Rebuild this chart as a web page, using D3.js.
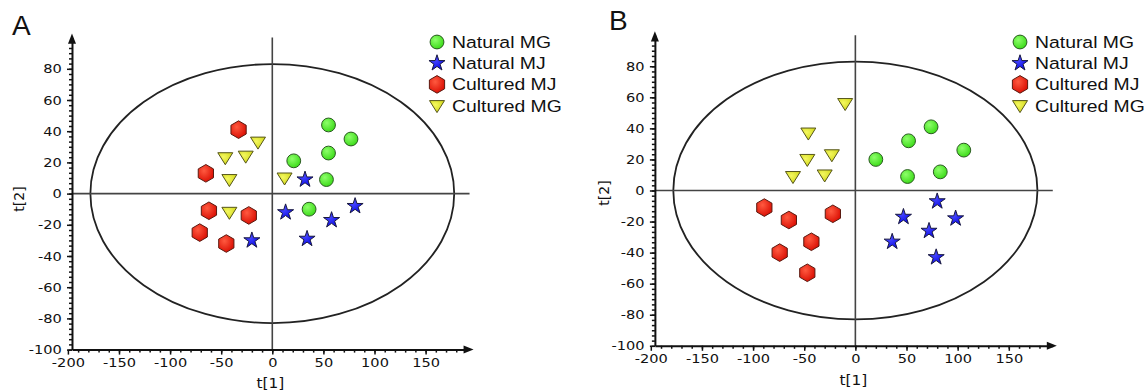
<!DOCTYPE html>
<html>
<head>
<meta charset="utf-8">
<script src="https://cdn.jsdelivr.net/npm/d3@7"></script>
<style>
  body { margin: 0; background: #fff; }
</style>
</head>
<body>
<div id="chart-area"></div>
<script>
// group names, in legend order
const CATEGORIES = ['Natural MG', 'Natural MJ', 'Cultured MJ', 'Cultured MG'];

// panel A scores, [t1, t2]
const A_NATURAL_MG = [[21, 21], [55, 44], [77, 35], [55, 26], [53, 9], [36, -10]];
const A_NATURAL_MJ = [[32, 9], [13, -12], [81, -8], [58, -17], [34, -29], [-20, -30]];
const A_CULTURED_MJ = [[-33, 41], [-65, 13], [-62, -11], [-23, -14], [-71, -25], [-45, -32]];
const A_CULTURED_MG = [[-14, 33], [-46, 23], [-26, 24], [-42, 9], [12, 10], [-42, -12]];

// panel B scores, [t1, t2]
const B_NATURAL_MG = [[20, 20], [52, 32], [74, 41], [106, 26], [51, 9], [83, 12]];
const B_NATURAL_MJ = [[80, -7], [47, -17], [98, -18], [72, -26], [36, -33], [79, -43]];
const B_CULTURED_MJ = [[-89, -11], [-65, -19], [-22, -15], [-43, -33], [-74, -40], [-47, -53]];
const B_CULTURED_MG = [[-10, 56], [-46, 37], [-47, 20], [-23, 23], [-61, 9], [-30, 10]];

const X_TICKS = [-200, -150, -100, -50, 0, 50, 100, 150];
const Y_TICKS = [-100, -80, -60, -40, -20, 0, 20, 40, 60, 80];
// Hotelling ellipse half-axes
const ELLIPSE_T1 = 178;
const ELLIPSE_T2 = 83;

const STRETCH = 'scale(1.14,1)';

const COLORS = {
  'Natural MG': { light: '#8dff6a', base: '#3fdc1c', stroke: '#2a5a20' },
  'Natural MJ': { light: '#4a4aff', base: '#0a0ae8', stroke: '#1a1a40' },
  'Cultured MJ': { light: '#ff5a40', base: '#dc1206', stroke: '#5a1a10' },
  'Cultured MG': { light: '#f4f860', base: '#d2d81a', stroke: '#55551a' },
};

const hexPath = (r) => {
  const pts = d3.range(6).map((i) => {
    const a = Math.PI / 6 + i * Math.PI / 3;
    return [r * Math.cos(a), r * Math.sin(a)];
  });
  return 'M' + pts.map((p) => p.join(',')).join('L') + 'Z';
};

const SHAPES = {
  'Natural MG': d3.symbol(d3.symbolCircle, 150)(),
  'Natural MJ': d3.symbol(d3.symbolStar, 80)(),
  'Cultured MJ': hexPath(8.8),
  'Cultured MG': 'M-7.5,-5L7.5,-5L0,7Z',
};

const svg = d3.select('#chart-area')
  .append('svg')
  .attr('width', 1146)
  .attr('height', 391);

const defs = svg.append('defs');
CATEGORIES.forEach((c, i) => {
  const grad = defs.append('radialGradient')
    .attr('id', 'grad' + i)
    .attr('cx', '38%').attr('cy', '35%').attr('r', '65%');
  grad.append('stop').attr('offset', '0%').attr('stop-color', COLORS[c].light);
  grad.append('stop').attr('offset', '100%').attr('stop-color', COLORS[c].base);
});

const PANELS = [
  {
    label: 'A', labelPos: [12, 35],
    xRange: [67.9, 425.6], yRange: [349.6, 37.6],
    legend: [437, 42],
    yTitle: [24, 199], xTitleY: 388,
    series: [A_NATURAL_MG, A_NATURAL_MJ, A_CULTURED_MJ, A_CULTURED_MG],
  },
  {
    label: 'B', labelPos: [609, 30],
    xRange: [650.8, 1008.8], yRange: [345.8, 35.2],
    legend: [1020, 42],
    yTitle: [609, 193], xTitleY: 385,
    series: [B_NATURAL_MG, B_NATURAL_MJ, B_CULTURED_MJ, B_CULTURED_MG],
  },
];

const plainNum = (d) => String(d);

const drawPanel = (p) => {
  const x = d3.scaleLinear().domain([-200, 150]).range(p.xRange);
  const y = d3.scaleLinear().domain([-100, 100]).range(p.yRange);
  const xLeft = -196, xRight = 193;
  const g = svg.append('g');

  const xAxisScale = x.copy().domain([xLeft, xRight]).range([x(xLeft), x(xRight)]);

  // ellipse
  g.append('ellipse')
    .attr('cx', x(0)).attr('cy', y(0))
    .attr('rx', x(ELLIPSE_T1) - x(0))
    .attr('ry', y(0) - y(ELLIPSE_T2))
    .attr('fill', 'none')
    .attr('stroke', '#222')
    .attr('stroke-width', 1.8);

  // zero lines
  g.append('line')
    .attr('x1', x(xLeft)).attr('x2', x(xRight))
    .attr('y1', y(0)).attr('y2', y(0))
    .attr('stroke', '#444').attr('stroke-width', 1.6);
  g.append('line')
    .attr('x1', x(0)).attr('x2', x(0))
    .attr('y1', y(100)).attr('y2', y(-100))
    .attr('stroke', '#444').attr('stroke-width', 1.6);

  // minor ticks
  g.append('g')
    .attr('transform', `translate(${x(xLeft)},0)`)
    .call(d3.axisLeft(y)
      .tickValues(d3.range(0, 59).map((i) => -100 + i * 10 / 3))
      .tickSize(3).tickSizeOuter(0).tickFormat(''))
    .call((a) => a.select('.domain').remove());
  g.append('g')
    .attr('transform', `translate(0,${y(-100)})`)
    .call(d3.axisBottom(x)
      .tickValues(d3.range(-190, 190, 10))
      .tickSize(3).tickSizeOuter(0).tickFormat(''))
    .call((a) => a.select('.domain').remove());

  // main axes
  const yAx = g.append('g')
    .attr('transform', `translate(${x(xLeft)},0)`)
    .call(d3.axisLeft(y).tickValues(Y_TICKS).tickFormat(plainNum)
      .tickSize(5).tickSizeOuter(0).tickPadding(4));
  const xAx = g.append('g')
    .attr('transform', `translate(0,${y(-100)})`)
    .call(d3.axisBottom(xAxisScale).tickValues(X_TICKS).tickFormat(plainNum)
      .tickSize(5).tickSizeOuter(0).tickPadding(3));

  [yAx, xAx].forEach((a) => {
    a.select('.domain').attr('stroke', '#111').attr('stroke-width', 2);
    a.selectAll('.tick text')
      .attr('font-family', 'DejaVu Sans, sans-serif')
      .attr('font-size', 12.8)
      .attr('fill', '#111')
      .attr('transform', STRETCH);
  });
  g.selectAll('.tick line').attr('stroke', '#111').attr('stroke-width', 1.5);

  // arrow heads
  g.append('path')
    .attr('d', `M${x(xLeft) - 4},${y(96)}L${x(xLeft)},${y(100) - 4}L${x(xLeft) + 4},${y(96)}Z`)
    .attr('fill', '#111');
  g.append('path')
    .attr('d', `M${x(xRight) - 6},${y(-100) - 4}L${x(xRight) + 4},${y(-100)}L${x(xRight) - 6},${y(-100) + 4}Z`)
    .attr('fill', '#111');

  // axis titles
  g.append('text')
    .attr('transform', `translate(${x(0) - 2},${p.xTitleY}) ${STRETCH}`)
    .attr('text-anchor', 'middle')
    .attr('font-family', 'DejaVu Sans, sans-serif')
    .attr('font-size', 13.5)
    .attr('fill', '#111')
    .text('t[1]');
  g.append('text')
    .attr('transform', `translate(${p.yTitle[0]},${p.yTitle[1]}) rotate(-90)`)
    .attr('text-anchor', 'middle')
    .attr('font-family', 'DejaVu Sans, sans-serif')
    .attr('font-size', 14)
    .attr('fill', '#111')
    .text('t[2]');

  // points
  CATEGORIES.forEach((c, i) => {
    g.append('g')
      .selectAll('path')
      .data(p.series[i])
      .enter()
      .append('path')
      .attr('d', SHAPES[c])
      .attr('transform', (d) => `translate(${x(d[0])},${y(d[1])})`)
      .attr('fill', `url(#grad${i})`)
      .attr('stroke', COLORS[c].stroke)
      .attr('stroke-width', 1);
  });

  // legend
  const leg = g.append('g');
  CATEGORIES.forEach((c, i) => {
    const cy = p.legend[1] + i * 21.2;
    leg.append('path')
      .attr('d', SHAPES[c])
      .attr('transform', `translate(${p.legend[0]},${cy})`)
      .attr('fill', `url(#grad${i})`)
      .attr('stroke', COLORS[c].stroke)
      .attr('stroke-width', 1);
    leg.append('text')
      .attr('transform', `translate(${p.legend[0] + 15},${cy + 6}) ${STRETCH}`)
      .attr('font-family', 'Liberation Sans, Arial, sans-serif')
      .attr('font-size', 17)
      .attr('fill', '#111')
      .text(c);
  });

  // panel letter
  svg.append('text')
    .attr('x', p.labelPos[0]).attr('y', p.labelPos[1])
    .attr('font-family', 'Liberation Sans, Arial, sans-serif')
    .attr('font-size', 28)
    .attr('fill', '#111')
    .text(p.label);
};

PANELS.forEach(drawPanel);
</script>
</body>
</html>
